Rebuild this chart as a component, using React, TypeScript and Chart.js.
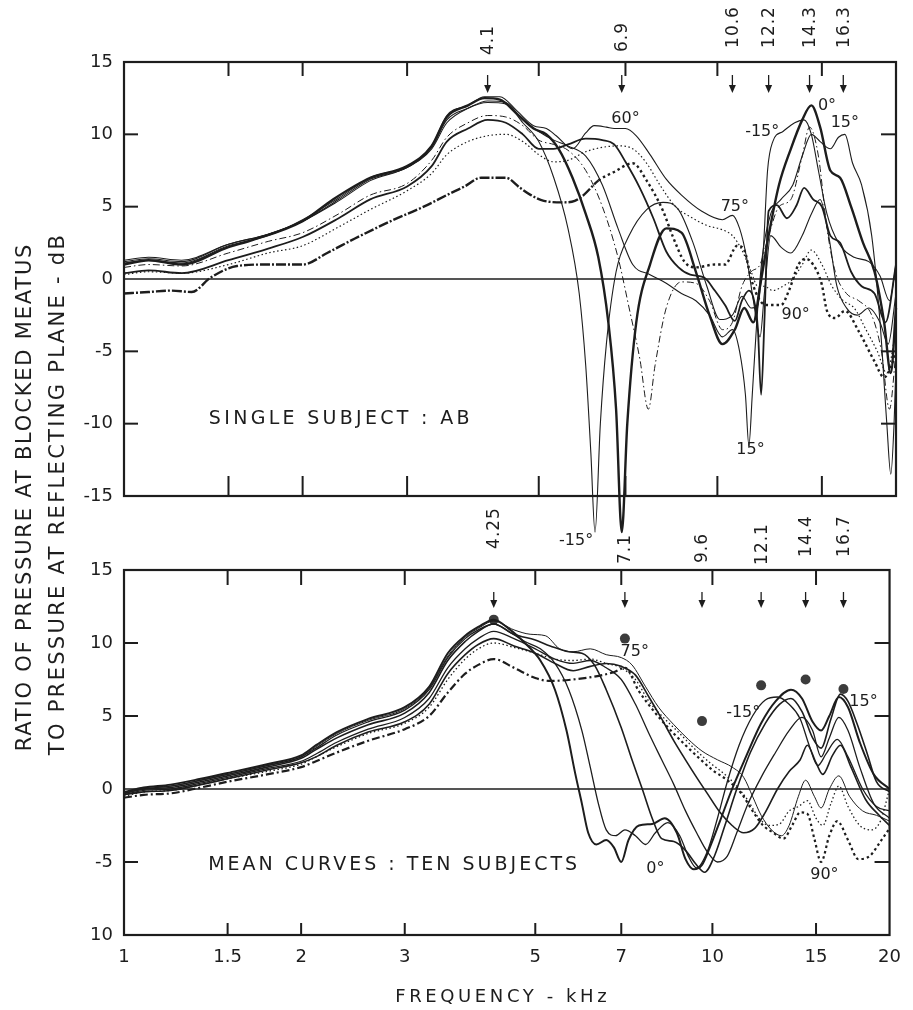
import React, { useEffect, useRef } from 'react';
import { Chart, registerables } from 'chart.js';
Chart.register(...registerables);

const FONT = "'DejaVu Sans', 'Liberation Sans', sans-serif";
const INK = '#1d1d1d';

// ---------- axes ----------
const X_TICKS = [1, 1.5, 2, 3, 5, 7, 10, 15, 20];
const X_TICK_LABELS = ['1', '1.5', '2', '3', '5', '7', '10', '15', '20'];
const TOP_Y_TICKS = [15, 10, 5, 0, -5, -10, -15];
const TOP_Y_LABELS = ['15', '10', '5', '0', '-5', '-10', '-15'];
const BOT_Y_TICKS = [15, 10, 5, 0, -5, -10];
const BOT_Y_LABELS = ['15', '10', '5', '0', '-5', '10'];

// ---------- annotations (frequencies in kHz) ----------
const TOP_ARROWS = [4.1, 6.9, 10.6, 12.2, 14.3, 16.3];
const TOP_ARROW_LABELS = ['4.1', '6.9', '10.6', '12.2', '14.3', '16.3'];
const BOT_ARROWS = [4.25, 7.1, 9.6, 12.1, 14.4, 16.7];
const BOT_ARROW_LABELS = ['4.25', '7.1', '9.6', '12.1', '14.4', '16.7'];

// filled circles of the lower panel [kHz, dB]
const BOT_DOTS = [[4.25, 11.6], [7.1, 10.3], [9.6, 4.65], [12.1, 7.1], [14.4, 7.5], [16.7, 6.85]];

// angle labels [text, kHz, dB]
const TOP_NOTES: [string, number, number][] = [
  ['60°', 7.0, 11.1], ['-15°', 11.9, 10.2], ['0°', 15.3, 12.0], ['15°', 16.4, 10.8],
  ['75°', 10.7, 5.0], ['90°', 13.55, -2.5], ['15°', 11.37, -11.8], ['-15°', 5.78, -18.1],
];
const BOT_NOTES: [string, number, number][] = [
  ['75°', 7.38, 9.4], ['-15°', 11.28, 5.2], ['15°', 18.06, 6.0], ['0°', 8.0, -5.45], ['90°', 15.5, -5.9],
];
const TOP_TITLE: [string, number, number] = ['SINGLE SUBJECT : AB', 1.39, -9.65];
const BOT_TITLE: [string, number, number] = ['MEAN CURVES : TEN SUBJECTS', 1.39, -5.2];

// ---------- single subject AB (upper panel) [kHz, dB] ----------
const TOP_M15 = [[1,1.2],[1.1,1.4],[1.25,1.2],[1.5,2.4],[1.75,3.1],[2,4.0],[2.3,5.4],[2.6,6.8],[3,7.7],[3.3,9.0],[3.5,10.8],[3.8,11.8],[4.1,12.2],[4.4,12.1],[4.7,10.8],[5.0,9.5],[5.3,7.0],[5.6,3.5],[5.85,-1.0],[6.0,-6.0],[6.12,-12.0],[6.22,-17.5],[6.35,-10.0],[6.5,-4.5],[6.75,0.5],[7.1,3.0],[7.6,4.8],[8.1,5.3],[8.6,4.8],[9.1,2.5],[9.6,-0.5],[10.1,-2.8],[10.6,-2.5],[11.0,-1.2],[11.4,-2.0],[11.7,-1.8],[11.95,2.0],[12.15,7.5],[12.4,9.5],[12.9,10.2],[13.5,10.8],[14.0,11.0],[14.4,10.0],[14.8,7.5],[15.3,4.5],[16.0,2.5],[17.0,1.5],[18.0,1.2],[18.8,0.2],[19.5,-1.5],[20,1.0]];
const TOP_0 = [[1,1.0],[1.1,1.3],[1.25,1.0],[1.5,2.2],[1.65,2.7],[2,4.0],[2.25,5.5],[2.6,7.0],[3,7.8],[3.3,9.2],[3.5,11.2],[3.8,12.0],[4.05,12.5],[4.3,12.4],[4.6,11.4],[4.9,10.4],[5.15,10.0],[5.4,9.0],[5.7,7.0],[6.0,4.5],[6.3,1.5],[6.55,-3.0],[6.75,-9.0],[6.9,-17.5],[7.05,-10.0],[7.3,-3.0],[7.7,1.0],[8.2,3.5],[8.7,3.2],[9.2,0.5],[9.7,-2.5],[10.2,-4.5],[10.7,-3.5],[11.1,-2.0],[11.5,-3.0],[11.8,-0.5],[12.2,3.0],[12.7,6.5],[13.3,9.0],[13.9,11.0],[14.4,12.0],[14.9,10.5],[15.5,7.5],[16.1,7.0],[16.8,5.0],[17.6,2.5],[18.4,0.5],[19.1,-3.0],[19.6,-6.5],[20,-2.0]];
const TOP_15 = [[1,1.3],[1.1,1.5],[1.25,1.3],[1.5,2.4],[1.75,3.1],[2,4.0],[2.3,5.5],[2.6,6.9],[3,7.7],[3.3,9.1],[3.5,11.0],[3.8,11.8],[4.1,12.3],[4.4,12.2],[4.7,11.0],[5.0,10.2],[5.3,9.6],[5.6,9.2],[6.0,8.5],[6.4,6.5],[6.8,3.5],[7.2,1.0],[7.7,0.3],[8.2,-0.3],[8.7,-1.0],[9.2,-1.5],[9.7,-2.5],[10.2,-4.0],[10.6,-3.5],[10.9,-5.0],[11.15,-8.0],[11.3,-11.5],[11.45,-8.0],[11.65,-3.0],[11.9,1.5],[12.3,4.5],[12.8,5.5],[13.4,6.5],[13.9,8.5],[14.4,10.0],[14.9,9.5],[15.5,9.0],[16.0,9.8],[16.4,10.0],[16.9,8.0],[17.5,6.5],[18.2,3.0],[18.8,-3.0],[19.3,-10.0],[19.6,-13.5],[19.85,-10.0],[20,-6.0]];
const TOP_30 = [[1,0.8],[1.1,1.0],[1.25,0.9],[1.5,1.8],[1.75,2.6],[2,3.2],[2.3,4.5],[2.6,5.8],[3,6.6],[3.3,8.2],[3.5,9.8],[3.8,10.8],[4.1,11.3],[4.4,11.2],[4.7,10.6],[5.0,9.6],[5.3,9.3],[5.6,8.9],[6.0,7.5],[6.4,5.0],[6.8,1.5],[7.1,-2.0],[7.4,-5.5],[7.65,-9.0],[7.85,-6.0],[8.2,-2.0],[8.7,-0.2],[9.2,-0.3],[9.7,-1.5],[10.2,-3.5],[10.6,-3.0],[11.0,-0.5],[11.4,0.5],[11.8,1.0],[12.2,3.0],[12.7,5.0],[13.3,5.5],[13.9,8.5],[14.3,10.5],[14.8,8.5],[15.3,3.5],[15.8,0.5],[16.5,-1.0],[17.3,-1.5],[18.2,-2.5],[18.9,-5.0],[19.5,-9.0],[20,-5.0]];
const TOP_45 = [[1,0.4],[1.1,0.6],[1.25,0.4],[1.5,1.3],[1.75,2.1],[2,2.9],[2.3,4.2],[2.6,5.5],[3,6.4],[3.3,7.8],[3.5,9.5],[3.8,10.4],[4.1,11.0],[4.4,10.8],[4.7,10.0],[5.0,9.0],[5.3,9.0],[5.6,9.3],[6.0,9.7],[6.4,9.6],[6.7,9.3],[7.0,8.1],[7.4,6.3],[7.8,4.2],[8.2,1.9],[8.6,0.8],[9.0,0.3],[9.5,0.1],[9.9,-0.8],[10.3,-1.8],[10.7,-2.9],[11.0,-1.5],[11.3,-0.8],[11.5,-1.3],[11.7,-3.4],[11.85,-8.0],[12.0,-3.0],[12.2,4.7],[12.6,5.1],[13.1,4.2],[13.6,5.1],[14.0,6.3],[14.5,5.5],[15.0,5.0],[15.5,3.0],[16.1,2.5],[16.8,0.5],[17.5,-0.5],[18.4,-1.0],[19.2,-3.0],[20,1.0]];
const TOP_60 = [[1,1.1],[1.1,1.3],[1.25,1.1],[1.5,2.3],[1.75,3.0],[2,4.1],[2.3,5.6],[2.6,7.0],[3,7.8],[3.3,9.2],[3.5,11.3],[3.8,12.0],[4.05,12.6],[4.3,12.6],[4.6,11.6],[4.9,10.6],[5.15,10.4],[5.35,9.9],[5.7,9.0],[6.0,10.1],[6.2,10.6],[6.5,10.5],[6.7,10.4],[7.0,10.4],[7.3,9.9],[7.7,8.6],[8.2,6.9],[8.7,5.8],[9.4,4.7],[10.2,4.1],[10.6,4.4],[10.9,3.5],[11.2,1.5],[11.5,-1.5],[11.8,-4.0],[12.0,-1.0],[12.3,3.0],[12.8,2.2],[13.3,1.8],[13.9,3.0],[14.4,4.5],[14.9,5.5],[15.4,3.0],[15.9,-0.5],[16.5,-2.0],[17.2,-2.5],[18.0,-2.0],[18.8,-3.0],[19.4,-4.5],[20,-1.0]];
const TOP_75 = [[1,0.3],[1.1,0.5],[1.25,0.4],[1.5,1.0],[1.75,1.8],[2,2.3],[2.3,3.6],[2.6,4.8],[3,6.1],[3.3,7.3],[3.5,8.6],[3.8,9.5],[4.1,9.9],[4.4,10.0],[4.7,9.5],[5.0,8.6],[5.3,8.1],[5.6,8.2],[6.0,8.8],[6.4,9.1],[6.8,9.2],[7.2,9.0],[7.6,8.0],[8.0,6.5],[8.5,5.0],[9.0,4.3],[9.6,3.7],[10.2,3.4],[10.6,3.0],[11.0,2.0],[11.4,0.5],[11.7,-0.5],[12.0,-0.5],[12.4,-0.8],[12.9,-0.5],[13.4,0],[13.9,1.0],[14.4,2.0],[15.0,1.0],[15.6,-0.5],[16.3,-1.5],[17.0,-2.0],[17.8,-3.5],[18.6,-5.0],[19.3,-6.5],[20,-3.5]];
const TOP_90 = [[1,-1.0],[1.1,-0.9],[1.2,-0.8],[1.3,-0.9],[1.4,0.1],[1.55,0.9],[1.75,1.0],[2,1.0],[2.2,1.8],[2.45,2.8],[2.85,4.1],[3.2,5.0],[3.5,5.8],[3.75,6.4],[4.0,7.0],[4.4,7.0],[4.65,6.3],[4.85,5.8],[5.1,5.4],[5.5,5.3],[5.75,5.4],[5.95,5.8],[6.3,6.8],[6.7,7.4],[7.2,8.0],[7.6,6.8],[8.1,4.7],[8.4,3.0],[8.8,1.2],[9.2,0.8],[9.9,1.0],[10.3,1.0],[10.8,2.3],[11.1,2.0],[11.4,0],[11.8,-1.5],[12.2,-1.8],[12.8,-1.8],[13.2,-0.8],[13.7,1.0],[14.1,1.4],[14.5,1.0],[15.0,-0.4],[15.3,-2.2],[15.8,-2.7],[16.4,-2.2],[17.3,-3.6],[18.4,-5.7],[19.1,-6.8],[19.6,-6.1],[20,-5.0]];

// ---------- mean curves, ten subjects (lower panel) [kHz, dB] ----------
const BOT_0 = [[1,-0.2],[1.08,0.1],[1.2,0.3],[1.35,0.7],[1.5,1.1],[1.75,1.7],[2,2.3],[2.12,3.0],[2.3,3.9],[2.6,4.8],[3,5.6],[3.3,7.0],[3.55,9.3],[3.8,10.5],[4.0,11.1],[4.25,11.6],[4.5,11.0],[4.8,10.0],[5.1,8.8],[5.4,6.8],[5.65,4.0],[5.85,1.0],[6.0,-1.0],[6.15,-3.0],[6.35,-3.8],[6.6,-3.5],[6.8,-4.0],[7.0,-5.0],[7.2,-3.5],[7.5,-2.5],[7.9,-2.4],[8.3,-2.0],[8.7,-3.0],[9.0,-4.8],[9.3,-5.5],[9.6,-5.2],[9.9,-4.0],[10.3,-2.2],[10.8,0],[11.4,2.2],[12.1,4.5],[12.8,6.0],[13.6,6.8],[14.2,6.2],[14.8,4.6],[15.3,4.0],[15.8,5.0],[16.4,6.3],[17.0,5.6],[17.8,3.2],[18.8,1.0],[20,0]];
const BOT_M15 = [[1,-0.3],[1.08,0.0],[1.2,0.2],[1.35,0.6],[1.5,1.0],[1.75,1.6],[2,2.2],[2.12,2.8],[2.3,3.7],[2.6,4.6],[3,5.4],[3.3,6.8],[3.55,9.0],[3.8,10.3],[4.0,10.9],[4.25,11.3],[4.5,10.8],[4.8,10.1],[5.1,9.6],[5.4,8.6],[5.7,6.8],[6.0,4.0],[6.2,1.5],[6.4,-1.0],[6.6,-2.8],[6.85,-3.2],[7.1,-2.8],[7.4,-3.2],[7.7,-3.8],[8.0,-3.0],[8.4,-2.3],[8.8,-3.2],[9.1,-4.6],[9.4,-5.4],[9.8,-4.3],[10.2,-2.0],[10.6,0.5],[11.1,3.0],[11.7,5.0],[12.3,6.1],[12.9,6.3],[13.5,5.8],[14.1,4.8],[14.6,3.0],[15.1,1.6],[15.6,2.4],[16.3,3.4],[17.0,2.2],[18.0,0],[19.0,-1.2],[20,-1.5]];
const BOT_15 = [[1,-0.3],[1.08,0.0],[1.2,0.1],[1.35,0.5],[1.5,0.9],[1.75,1.5],[2,2.1],[2.12,2.7],[2.3,3.5],[2.6,4.4],[3,5.2],[3.3,6.6],[3.55,8.8],[3.8,10.1],[4.0,10.8],[4.25,11.3],[4.6,10.6],[5.0,10.2],[5.3,9.8],[5.7,9.4],[6.0,9.3],[6.3,8.5],[6.6,6.8],[7.0,4.2],[7.3,2.0],[7.6,0],[7.9,-2.0],[8.2,-3.4],[8.6,-3.6],[9.0,-4.2],[9.4,-5.2],[9.7,-5.7],[10.1,-4.5],[10.5,-2.5],[11.0,0],[11.6,2.5],[12.3,4.5],[13.0,5.8],[13.6,6.2],[14.2,5.3],[14.8,3.5],[15.3,2.8],[15.9,4.8],[16.5,6.5],[17.0,6.0],[17.6,4.5],[18.3,2.5],[19.0,0.5],[20,-0.2]];
const BOT_30 = [[1,-0.4],[1.08,-0.1],[1.2,0.0],[1.35,0.4],[1.5,0.8],[1.75,1.4],[2,1.9],[2.12,2.4],[2.3,3.2],[2.6,4.1],[3,4.9],[3.3,6.2],[3.55,8.3],[3.8,9.6],[4.0,10.3],[4.25,10.8],[4.6,10.3],[5.0,9.6],[5.4,8.9],[5.8,8.6],[6.2,8.8],[6.6,8.3],[7.0,7.5],[7.4,5.8],[7.8,3.8],[8.2,2.0],[8.6,0.3],[9.0,-1.5],[9.4,-3.0],[9.8,-4.3],[10.2,-5.0],[10.6,-4.6],[11.0,-3.0],[11.5,-1.0],[12.1,0.8],[12.8,2.5],[13.5,4.0],[14.2,4.9],[14.8,4.0],[15.3,2.2],[15.8,3.5],[16.4,4.9],[17.0,4.0],[17.8,1.5],[18.8,-1.0],[20,-2.0]];
const BOT_45 = [[1,-0.4],[1.08,-0.2],[1.2,-0.1],[1.35,0.3],[1.5,0.7],[1.75,1.3],[2,1.8],[2.12,2.2],[2.3,3.0],[2.6,3.9],[3,4.6],[3.3,5.8],[3.55,7.9],[3.8,9.2],[4.0,9.9],[4.25,10.3],[4.6,9.8],[5.0,9.3],[5.4,8.6],[5.8,8.1],[6.2,8.4],[6.6,8.6],[7.0,8.4],[7.4,7.8],[7.8,6.3],[8.2,4.8],[8.6,3.3],[9.0,2.0],[9.4,0.8],[9.8,-0.3],[10.3,-1.6],[10.8,-2.5],[11.3,-3.0],[11.8,-2.7],[12.3,-1.6],[12.9,0],[13.5,1.2],[14.1,2.0],[14.5,3.0],[15.0,1.8],[15.4,1.0],[16.0,2.3],[16.5,3.0],[17.2,1.5],[18.2,-0.7],[19.2,-1.8],[20,-2.5]];
const BOT_60 = [[1,-0.3],[1.08,0.1],[1.2,0.2],[1.35,0.6],[1.5,1.0],[1.75,1.6],[2,2.2],[2.12,2.9],[2.3,3.8],[2.6,4.7],[3,5.5],[3.3,6.9],[3.55,9.1],[3.8,10.4],[4.0,11.0],[4.25,11.5],[4.6,10.9],[4.9,10.6],[5.2,10.5],[5.5,9.6],[5.8,9.4],[6.2,9.6],[6.6,9.2],[7.0,9.0],[7.3,8.5],[7.7,7.0],[8.1,5.6],[8.6,4.4],[9.1,3.4],[9.6,2.6],[10.2,2.0],[10.8,1.5],[11.3,0.8],[11.7,-0.5],[12.1,-1.8],[12.6,-2.8],[13.1,-3.2],[13.5,-2.5],[14.0,-0.5],[14.4,0.6],[14.9,-0.5],[15.3,-1.3],[15.8,0],[16.4,0.9],[17.1,-0.5],[18.0,-1.5],[19.0,-1.8],[20,-2.2]];
const BOT_75 = [[1,-0.5],[1.08,-0.2],[1.2,-0.1],[1.35,0.3],[1.5,0.7],[1.75,1.2],[2,1.7],[2.12,2.2],[2.3,2.9],[2.6,3.8],[3,4.5],[3.3,5.6],[3.55,7.5],[3.8,8.9],[4.0,9.6],[4.25,10.0],[4.6,9.7],[5.0,9.3],[5.4,8.9],[5.8,8.8],[6.2,8.9],[6.6,8.6],[7.0,8.3],[7.4,7.5],[7.8,6.0],[8.3,4.8],[8.8,3.8],[9.3,2.8],[9.9,1.8],[10.5,1.0],[11.0,0.2],[11.5,-0.8],[12.0,-2.0],[12.5,-2.5],[13.0,-2.4],[13.5,-1.5],[14.0,-1.2],[14.5,-0.8],[15.0,-2.0],[15.4,-2.5],[15.9,-1.0],[16.4,0.2],[17.0,-1.2],[17.8,-2.5],[18.6,-2.8],[19.3,-2.2],[20,0]];
const BOT_90 = [[1,-0.6],[1.08,-0.4],[1.2,-0.3],[1.35,0.1],[1.5,0.5],[1.75,1.0],[2,1.5],[2.12,1.9],[2.3,2.5],[2.6,3.3],[3,4.1],[3.3,5.0],[3.55,6.6],[3.8,7.9],[4.0,8.5],[4.25,8.9],[4.6,8.3],[5.0,7.6],[5.3,7.4],[5.8,7.5],[6.3,7.7],[6.8,8.0],[7.1,8.3],[7.5,6.7],[8.0,5.2],[8.5,4.0],[9.0,3.0],[9.5,2.1],[10.0,1.3],[10.6,0.6],[11.2,-0.3],[11.7,-1.5],[12.2,-2.5],[12.7,-3.0],[13.2,-3.4],[13.7,-2.4],[14.1,-1.6],[14.5,-1.7],[14.9,-3.4],[15.3,-5.0],[15.8,-3.2],[16.3,-2.2],[17.0,-3.5],[17.7,-4.8],[18.5,-4.6],[19.3,-3.6],[20,-2.7]];

// ---------- helpers ----------
function line(pts: number[][], width: number, dash: number[] = [], seg?: any) {
  return {
    data: pts.map(([x, y]) => ({ x, y })),
    borderColor: INK,
    borderWidth: width,
    borderDash: dash,
    pointRadius: 0,
    fill: false,
    cubicInterpolationMode: 'monotone',
    clip: false,
    segment: seg,
  };
}
const splitDash = (fromKHz: number, low: number[], high: number[]) => ({
  borderDash: (c: any) => (c.p0.parsed.x >= fromKHz ? high : low),
});

function spaced(ctx: any, px: number) {
  try { ctx.letterSpacing = px + 'px'; } catch (e) { /* ignore */ }
}

function decor(cfg: any) {
  return {
    id: 'decor',
    beforeDatasetsDraw(chart: any) {
      const { ctx, chartArea: a, scales } = chart;
      const y0 = scales.y.getPixelForValue(0);
      ctx.save();
      ctx.strokeStyle = INK;
      ctx.lineWidth = 1.6;
      ctx.beginPath();
      ctx.moveTo(a.left, y0);
      ctx.lineTo(a.right, y0);
      ctx.stroke();
      ctx.restore();
    },
    afterDatasetsDraw(chart: any) {
      const { ctx, chartArea: a, scales } = chart;
      const x = scales.x, y = scales.y;
      ctx.save();
      ctx.strokeStyle = INK;
      ctx.fillStyle = INK;
      ctx.lineWidth = 2.2;
      ctx.strokeRect(a.left, a.top, a.right - a.left, a.bottom - a.top);
      ctx.lineWidth = 2;
      X_TICKS.slice(1, -1).forEach((v) => {
        const px = x.getPixelForValue(v);
        ctx.beginPath();
        ctx.moveTo(px, a.top); ctx.lineTo(px, a.top + cfg.topTick);
        ctx.moveTo(px, a.bottom); ctx.lineTo(px, a.bottom - cfg.botTick);
        ctx.stroke();
      });
      cfg.leftTicks.forEach((v: number) => {
        const py = y.getPixelForValue(v);
        ctx.beginPath(); ctx.moveTo(a.left, py); ctx.lineTo(a.left + 14, py); ctx.stroke();
      });
      cfg.rightTicks.forEach((v: number) => {
        const py = y.getPixelForValue(v);
        ctx.beginPath(); ctx.moveTo(a.right - 15, py); ctx.lineTo(a.right, py); ctx.stroke();
      });
      // arrows + rotated labels
      ctx.lineWidth = 1.3;
      cfg.arrows.forEach((f: number, i: number) => {
        const px = x.getPixelForValue(f);
        const t = a.top + cfg.arrowTop, b = a.top + cfg.arrowBot;
        ctx.beginPath(); ctx.moveTo(px, t); ctx.lineTo(px, b - 4); ctx.stroke();
        ctx.beginPath(); ctx.moveTo(px - 3.5, b - 8); ctx.lineTo(px + 3.5, b - 8); ctx.lineTo(px, b); ctx.closePath(); ctx.fill();
        ctx.save();
        ctx.translate(px, a.top + cfg.labelDy[i]);
        ctx.rotate(-Math.PI / 2);
        ctx.font = `17px ${FONT}`;
        ctx.textAlign = 'center';
        ctx.textBaseline = 'middle';
        spaced(ctx, 1);
        ctx.fillText(cfg.arrowLabels[i], 0, 1);
        ctx.restore();
      });
      // angle notes
      ctx.font = `16px ${FONT}`;
      ctx.textAlign = 'center';
      ctx.textBaseline = 'middle';
      spaced(ctx, 0);
      cfg.notes.forEach(([t, f, v]: [string, number, number]) => {
        ctx.fillText(t, x.getPixelForValue(f), y.getPixelForValue(v));
      });
      // panel title
      const [tt, tf, tv] = cfg.title;
      ctx.font = `19px ${FONT}`;
      ctx.textAlign = 'left';
      spaced(ctx, cfg.titleSpacing);
      ctx.fillText(tt, x.getPixelForValue(tf), y.getPixelForValue(tv));
      if (cfg.xTitle) {
        ctx.font = `18px ${FONT}`;
        ctx.textAlign = 'center';
        spaced(ctx, 3.6);
        ctx.fillText(cfg.xTitle, (a.left + a.right) / 2 - 4, a.bottom + 62);
      }
      spaced(ctx, 0);
      ctx.restore();
    },
  };
}

function yAxis(min: number, ticks: number[], labels: string[]) {
  return {
    type: 'linear',
    min,
    max: 15,
    ticks: {
      stepSize: 5,
      font: { family: FONT, size: 18 },
      color: INK,
      padding: 11,
      callback: (v: number) => labels[ticks.indexOf(v)] ?? '',
    },
    grid: { display: false, drawTicks: false },
    border: { display: false },
    afterFit: (s: any) => { s.width = 124; },
  };
}

function topConfig(): any {
  return {
    type: 'line',
    data: {
      datasets: [
        line(TOP_90, 2.4, [], splitDash(6.0, [10, 2, 2, 2], [2.5, 3])),
        line(TOP_75, 1.2, [1.5, 2.5]),
        line(TOP_45, 1.8),
        line(TOP_30, 1.0, [7, 3, 1.5, 3]),
        line(TOP_60, 1.1),
        line(TOP_15, 1.1),
        line(TOP_M15, 1.1),
        line(TOP_0, 2.4),
      ],
    },
    options: {
      animation: false,
      responsive: false,
      maintainAspectRatio: false,
      events: [],
      layout: { padding: { top: 62, right: 17, bottom: 0, left: 0 } },
      plugins: { legend: { display: false }, tooltip: { enabled: false } },
      scales: {
        x: {
          type: 'logarithmic', min: 1, max: 20,
          ticks: { display: false },
          grid: { display: false, drawTicks: false },
          border: { display: false },
          afterBuildTicks: (s: any) => { s.ticks = X_TICKS.map((value) => ({ value })); },
          afterFit: (s: any) => { s.height = 64; },
        },
        y: yAxis(-15, TOP_Y_TICKS, TOP_Y_LABELS),
      },
    },
    plugins: [decor({
      topTick: 14, botTick: 20, leftTicks: [10, 5, -5, -10], rightTicks: [10, 5, -5, -10],
      arrows: TOP_ARROWS, arrowLabels: TOP_ARROW_LABELS, labelDy: [-22, -25, -35, -35, -35, -35],
      arrowTop: 13, arrowBot: 31, notes: TOP_NOTES, title: TOP_TITLE, titleSpacing: 3.3,
    })],
  };
}

function botConfig(): any {
  return {
    type: 'line',
    data: {
      datasets: [
        line(BOT_90, 2.2, [], splitDash(7.0, [8, 3, 2, 3], [2.5, 3])),
        line(BOT_75, 1.3, [1.5, 2.5]),
        line(BOT_60, 1.0),
        line(BOT_45, 1.6),
        line(BOT_30, 1.3),
        line(BOT_15, 1.6),
        line(BOT_M15, 1.3),
        line(BOT_0, 2.0),
        {
          data: BOT_DOTS.map(([x, y]) => ({ x, y })),
          showLine: false,
          pointRadius: 5,
          pointBackgroundColor: '#3c3c3c',
          pointBorderWidth: 0,
          borderColor: 'transparent',
          clip: false,
        },
      ],
    },
    options: {
      animation: false,
      responsive: false,
      maintainAspectRatio: false,
      events: [],
      layout: { padding: { top: 70, right: 19, bottom: 0, left: 0 } },
      plugins: { legend: { display: false }, tooltip: { enabled: false } },
      scales: {
        x: {
          type: 'logarithmic', min: 1, max: 20,
          ticks: {
            autoSkip: false, maxRotation: 0, minRotation: 0, padding: 12,
            font: { family: FONT, size: 18 }, color: INK,
            callback: (v: number) => X_TICK_LABELS[X_TICKS.indexOf(v)] ?? '',
          },
          grid: { display: false, drawTicks: false },
          border: { display: false },
          afterBuildTicks: (s: any) => { s.ticks = X_TICKS.map((value) => ({ value })); },
          afterFit: (s: any) => { s.height = 75; },
        },
        y: yAxis(-10, BOT_Y_TICKS, BOT_Y_LABELS),
      },
    },
    plugins: [decor({
      topTick: 15, botTick: 12, leftTicks: [10, 5, -5], rightTicks: [10, 5, -5],
      arrows: BOT_ARROWS, arrowLabels: BOT_ARROW_LABELS, labelDy: [-42, -21, -22, -26, -34, -34],
      arrowTop: 22, arrowBot: 38, notes: BOT_NOTES, title: BOT_TITLE, titleSpacing: 3.0,
      xTitle: 'FREQUENCY - kHz',
    })],
  };
}

const yTitle = (cx: number, cy: number, ls: number): React.CSSProperties => ({
  position: 'absolute',
  left: cx - 300,
  top: cy - 13,
  width: 600,
  height: 26,
  lineHeight: '26px',
  textAlign: 'center',
  fontFamily: FONT,
  fontSize: 21,
  letterSpacing: ls,
  color: INK,
  whiteSpace: 'nowrap',
  transform: 'rotate(-90deg)',
  transformOrigin: '50% 50%',
});

export default function App() {
  const topRef = useRef<HTMLCanvasElement>(null);
  const botRef = useRef<HTMLCanvasElement>(null);
  useEffect(() => {
    const c1 = new Chart(topRef.current as HTMLCanvasElement, topConfig());
    const c2 = new Chart(botRef.current as HTMLCanvasElement, botConfig());
    return () => { c1.destroy(); c2.destroy(); };
  }, []);
  return (
    <div style={{ position: 'absolute', left: 0, top: 0, width: 913, height: 1010, background: '#fff', overflow: 'hidden' }}>
      <canvas ref={topRef} width={913} height={560} style={{ position: 'absolute', left: 0, top: 0, width: 913, height: 560 }} />
      <canvas ref={botRef} width={913} height={510} style={{ position: 'absolute', left: 0, top: 500, width: 913, height: 510 }} />
      <div style={yTitle(24, 497, 1.8)}>RATIO OF PRESSURE AT BLOCKED MEATUS</div>
      <div style={yTitle(57, 494, 2.3)}>TO PRESSURE AT REFLECTING PLANE - dB</div>
    </div>
  );
}
